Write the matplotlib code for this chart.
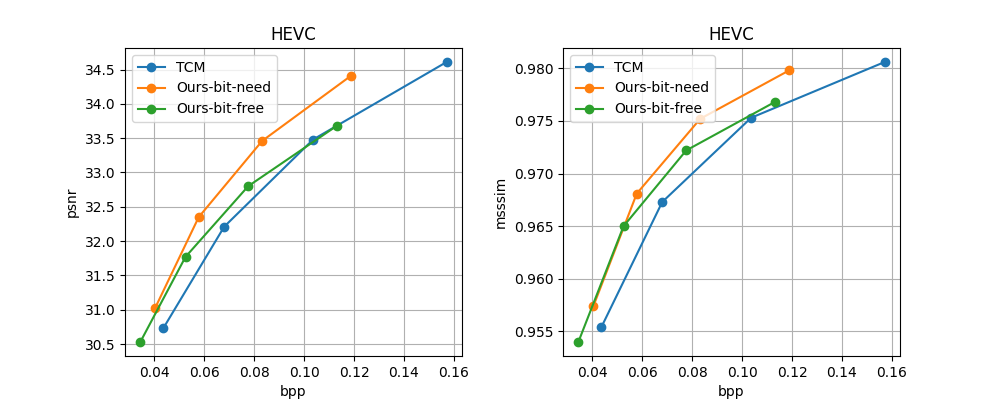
import matplotlib
matplotlib.use("Agg")
import matplotlib.pyplot as plt

# bpp / quality points (HEVC)
tcm_bpp = [0.0436, 0.0680, 0.1036, 0.1571]
tcm_psnr = [30.73, 32.21, 33.48, 34.61]
tcm_msssim = [0.9554, 0.9673, 0.9753, 0.9806]

need_bpp = [0.0404, 0.0578, 0.0832, 0.1188]
need_psnr = [31.03, 32.35, 33.46, 34.41]
need_msssim = [0.9574, 0.9681, 0.9752, 0.9798]

free_bpp = [0.0344, 0.0525, 0.0776, 0.1131]
free_psnr = [30.53, 31.77, 32.80, 33.68]
free_msssim = [0.9540, 0.9650, 0.9722, 0.9768]

fig, (ax1, ax2) = plt.subplots(1, 2, figsize=(10, 4))
plt.subplots_adjust(wspace=0.3)

# === psnr ===
ax1.plot(tcm_bpp, tcm_psnr, marker='o', label='TCM')
ax1.plot(need_bpp, need_psnr, marker='o', label='Ours-bit-need')
ax1.plot(free_bpp, free_psnr, marker='o', label='Ours-bit-free')
ax1.set_title('HEVC')
ax1.set_xlabel('bpp')
ax1.set_ylabel('psnr')
ax1.grid(True)
ax1.legend(loc='upper left')

# === msssim ===
ax2.plot(tcm_bpp, tcm_msssim, marker='o', label='TCM')
ax2.plot(need_bpp, need_msssim, marker='o', label='Ours-bit-need')
ax2.plot(free_bpp, free_msssim, marker='o', label='Ours-bit-free')
ax2.set_title('HEVC')
ax2.set_xlabel('bpp')
ax2.set_ylabel('msssim')
ax2.grid(True)
ax2.legend(loc='upper left')

plt.savefig('out.png', dpi=100)
